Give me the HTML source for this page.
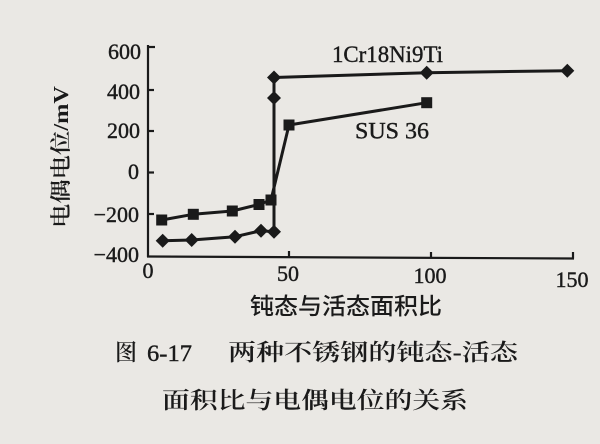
<!DOCTYPE html>
<html><head><meta charset="utf-8"><style>
html,body{margin:0;padding:0;background:#eae8e4;}
svg{display:block;}
.s{font-family:"Liberation Serif","Noto Serif CJK SC",serif;fill:#1a1a1a;stroke:#1a1a1a;stroke-width:0.4;}
.c{font-family:"Liberation Serif","Noto Serif CJK SC",serif;fill:#1a1a1a;}
.h{font-family:"Liberation Sans","Noto Sans CJK SC",sans-serif;fill:#1a1a1a;}
</style></head><body>
<svg width="600" height="444" viewBox="0 0 600 444" xmlns="http://www.w3.org/2000/svg">
<rect width="600" height="444" fill="#eae8e4"/>
<g stroke="#1a1a1a" stroke-width="2.2" fill="none">
<line x1="148" y1="45" x2="148" y2="257"/>
<line x1="147" y1="256.5" x2="574" y2="258.5"/>
<line x1="148" y1="47" x2="155" y2="47"/>
<line x1="148" y1="90" x2="154" y2="90"/>
<line x1="148" y1="131" x2="154" y2="131"/>
<line x1="148" y1="172.5" x2="154" y2="172.5"/>
<line x1="148" y1="214" x2="154" y2="214"/>
<line x1="289" y1="257" x2="289" y2="251"/>
<line x1="431" y1="258" x2="431" y2="252"/>
<line x1="573" y1="258.5" x2="573" y2="252"/>
</g>
<g class="s" font-size="22" text-anchor="end">
<text x="141" y="59">600</text>
<text x="140" y="99">400</text>
<text x="140" y="138">200</text>
<text x="139" y="179">0</text>
<text x="139" y="222">−200</text>
<text x="139" y="262">−400</text>
</g>
<g class="s" font-size="22" text-anchor="middle">
<text x="148" y="278">0</text>
<text x="288" y="281">50</text>
<text x="430" y="283">100</text>
<text x="572" y="287">150</text>
</g>
<!-- 1Cr18Ni9Ti -->
<polyline fill="none" stroke="#1a1a1a" stroke-width="3" stroke-linejoin="round" points="162.7,240.7 191.7,240 235,236.7 261,230.7 274,231.7 274,98 274,77.5 426.7,72.7 567.3,70.7"/>
<g fill="#1a1a1a">
<path d="M162.7,233.7 l7,7 l-7,7 l-7,-7z"/>
<path d="M191.7,233 l7,7 l-7,7 l-7,-7z"/>
<path d="M235,229.7 l7,7 l-7,7 l-7,-7z"/>
<path d="M261,223.7 l7,7 l-7,7 l-7,-7z"/>
<path d="M274,224.7 l7,7 l-7,7 l-7,-7z"/>
<path d="M274,91 l7,7 l-7,7 l-7,-7z"/>
<path d="M274,70.5 l7,7 l-7,7 l-7,-7z"/>
<path d="M426.7,65.7 l7,7 l-7,7 l-7,-7z"/>
<path d="M567.3,63.7 l7,7 l-7,7 l-7,-7z"/>
</g>
<!-- SUS 36 -->
<polyline fill="none" stroke="#1a1a1a" stroke-width="3" stroke-linejoin="round" points="161.7,220 193.3,214.3 232.3,211 259,204.5 271,200 289,125 426.7,102.7"/>
<g fill="#1a1a1a">
<rect x="156.2" y="214.5" width="11" height="11"/>
<rect x="187.8" y="208.8" width="11" height="11"/>
<rect x="226.8" y="205.5" width="11" height="11"/>
<rect x="253.5" y="199" width="11" height="11"/>
<rect x="265.5" y="194.5" width="11" height="11"/>
<rect x="283.5" y="119.5" width="11" height="11"/>
<rect x="421.2" y="97.2" width="11" height="11"/>
</g>
<text class="s" x="332" y="62" font-size="23" textLength="111" lengthAdjust="spacingAndGlyphs">1Cr18Ni9Ti</text>
<text class="s" x="355" y="138.5" font-size="23" textLength="74" lengthAdjust="spacingAndGlyphs">SUS 36</text>
<text class="c" font-size="21" font-weight="600" transform="translate(68,228) rotate(-90)" textLength="142" lengthAdjust="spacingAndGlyphs">电偶电位/mV</text>
<text class="h" x="250" y="314" font-size="23" font-weight="500" textLength="192" lengthAdjust="spacingAndGlyphs">钝态与活态面积比</text>
<text class="c" x="115" y="360" font-size="23" font-weight="600" textLength="22" lengthAdjust="spacingAndGlyphs">图</text>
<text class="s" x="147" y="361" font-size="23" textLength="45" lengthAdjust="spacingAndGlyphs">6-17</text>
<text class="c" x="228" y="360" font-size="23" font-weight="600" textLength="290" lengthAdjust="spacingAndGlyphs">两种不锈钢的钝态-活态</text>
<text class="c" x="162" y="408" font-size="23" font-weight="600" textLength="306" lengthAdjust="spacingAndGlyphs">面积比与电偶电位的关系</text>
</svg>
</body></html>
